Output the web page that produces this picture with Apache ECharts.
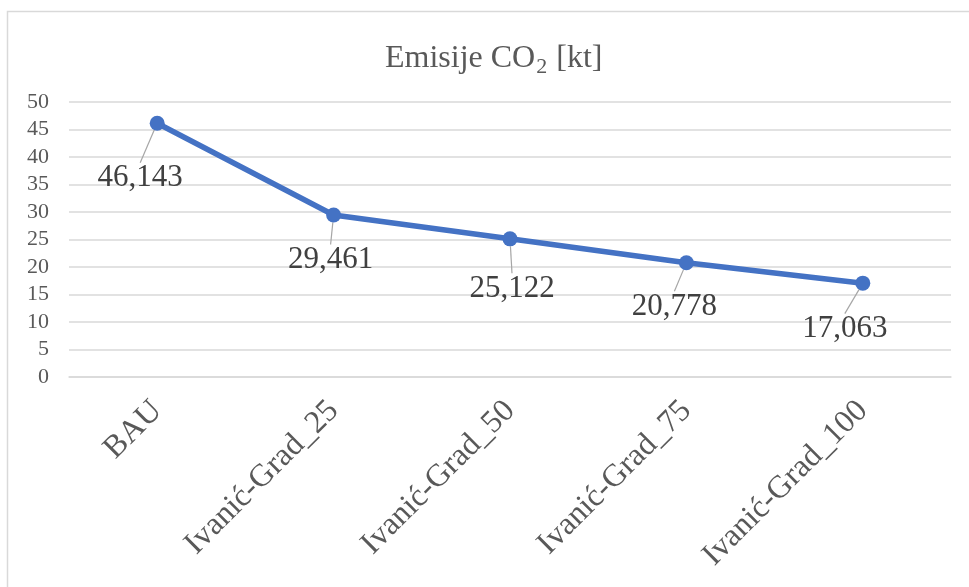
<!DOCTYPE html>
<html>
<head>
<meta charset="utf-8">
<script src="https://cdn.jsdelivr.net/npm/echarts@6/dist/echarts.min.js"></script>
<style>
  html, body { margin: 0; padding: 0; background: #fff; }
  #chart { width: 969px; height: 587px; }
</style>
</head>
<body>
<div id="chart"></div>
<script>
// Scenario names and CO2 emissions (kt)
const categories = ['BAU', 'Ivanić-Grad_25', 'Ivanić-Grad_50', 'Ivanić-Grad_75', 'Ivanić-Grad_100'];
const emissions = [46.143, 29.461, 25.122, 20.778, 17.063];
const yTicks = [0, 5, 10, 15, 20, 25, 30, 35, 40, 45, 50];

// Where each value label sits relative to its point (pixels)
const labelShift = [[-17, 55], [-3, 45], [2, 50], [-12, 44], [-18, 46]];

const FONT = 'Liberation Serif';

const chart = echarts.init(document.getElementById('chart'), null, { renderer: 'canvas' });

chart.setOption({
  animation: false,
  backgroundColor: '#ffffff',
  graphic: [{
    type: 'rect',
    shape: { x: 7.5, y: 11.5, width: 1000, height: 700 },
    style: { fill: 'none', stroke: '#d9d9d9', lineWidth: 1.5 },
    silent: true
  }],
  title: {
    text: '{t|Emisije CO}{s|2}{t| [kt]}',
    left: 380,
    top: 35,
    textStyle: {
      fontWeight: 'normal',
      rich: {
        t: { fontFamily: FONT, fontSize: 32, fontWeight: 'normal', color: '#595959' },
        s: { fontFamily: FONT, fontSize: 22, fontWeight: 'normal', color: '#595959', padding: [16, 1, 0, 1] }
      }
    }
  },
  grid: { left: 69, right: 18, top: 102, bottom: 210, containLabel: false },
  xAxis: {
    type: 'category',
    data: categories,
    boundaryGap: true,
    axisLine: { show: true, lineStyle: { color: '#d9d9d9', width: 1.5 } },
    axisTick: { show: false },
    axisLabel: {
      rotate: 45,
      interval: 0,
      margin: 29,
      fontFamily: FONT,
      fontSize: 32,
      color: '#595959'
    }
  },
  yAxis: {
    type: 'value',
    min: yTicks[0],
    max: yTicks[yTicks.length - 1],
    interval: yTicks[1] - yTicks[0],
    axisLine: { show: false },
    axisTick: { show: false },
    splitLine: { lineStyle: { color: '#d9d9d9', width: 1.5 } },
    axisLabel: {
      margin: 20,
      fontFamily: FONT,
      fontSize: 22,
      color: '#595959',
      formatter: v => String(v)
    }
  },
  series: [{
    type: 'line',
    data: emissions,
    symbol: 'circle',
    symbolSize: 15,
    lineStyle: { color: '#4472c4', width: 5.5 },
    itemStyle: { color: '#4472c4' },
    label: {
      show: true,
      position: 'inside',
      fontFamily: FONT,
      fontSize: 31,
      color: '#404040',
      formatter: p => p.value.toFixed(3).replace('.', ',')
    },
    labelLine: {
      show: true,
      lineStyle: { color: '#a6a6a6', width: 1.2 }
    },
    labelLayout: p => ({ dx: labelShift[p.dataIndex][0], dy: labelShift[p.dataIndex][1] }),
    emphasis: { disabled: true }
  }]
});
</script>
</body>
</html>
